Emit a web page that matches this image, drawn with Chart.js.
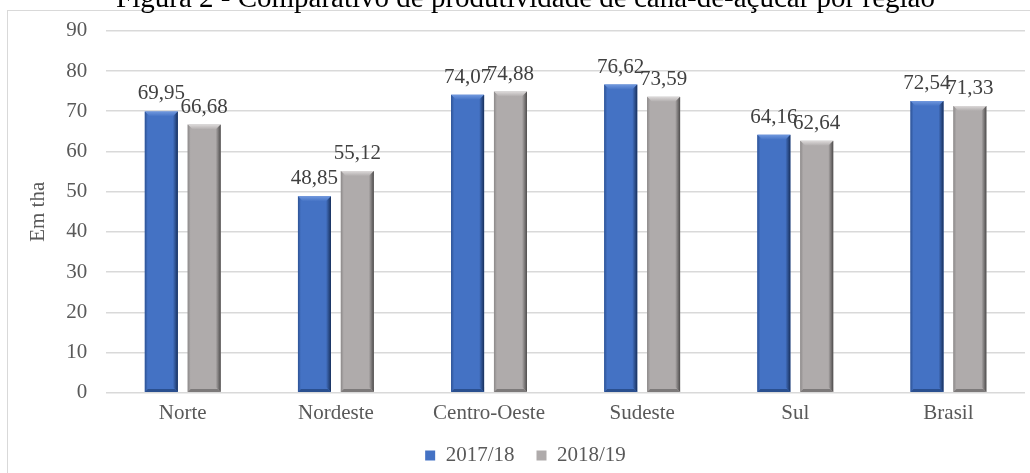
<!DOCTYPE html>
<html>
<head>
<meta charset="utf-8">
<script src="https://cdn.jsdelivr.net/npm/chart.js@4"></script>
<style>
  html, body { margin: 0; padding: 0; background: #fff; overflow: hidden; }
  body { width: 1030px; height: 473px; position: relative; }
  #frame { position: absolute; left: 7px; top: 10px; width: 1100px; height: 520px; border: 1px solid #d9d9d9; }
  #wrap { position: absolute; left: 0; top: -20px; width: 1030px; height: 496px; }
</style>
</head>
<body>
<div id="frame"></div>
<div id="wrap"><canvas id="bar-chart"></canvas></div>
<script>
const regioes = ["Norte", "Nordeste", "Centro-Oeste", "Sudeste", "Sul", "Brasil"];
const safra1718 = [69.95, 48.85, 74.07, 76.62, 64.16, 72.54];
const safra1819 = [66.68, 55.12, 74.88, 73.59, 62.64, 71.33];
const yTicks = [0, 10, 20, 30, 40, 50, 60, 70, 80, 90];

const FONT = "'Liberation Serif', 'Times New Roman', serif";

// face / bevel colours for each series
const bevels = [
  { face: "#4472c4", top: "#7098de", left: "#2d5294", right: "#18305c", bottom: "#2a4f8f" },
  { face: "#afabab", top: "#dcd9d9", left: "#8c8989", right: "#4d4b4b", bottom: "#7d7a7a" },
];

function fmt(v) {
  return v.toFixed(2).replace(".", ",");
}

// draws the bevelled edges over every bar
const bevelPlugin = {
  id: "bevel",
  afterDatasetsDraw(chart) {
    const ctx = chart.ctx;
    chart.data.datasets.forEach((ds, i) => {
      const c = bevels[i];
      chart.getDatasetMeta(i).data.forEach((bar) => {
        const l = bar.x - bar.width / 2, r = bar.x + bar.width / 2;
        const t = bar.y, b = bar.base;
        const s = 5;
        ctx.save();
        // top
        let g = ctx.createLinearGradient(0, t, 0, t + s);
        g.addColorStop(0, c.top);
        g.addColorStop(1, c.face);
        ctx.fillStyle = g;
        ctx.beginPath();
        ctx.moveTo(l, t); ctx.lineTo(r, t); ctx.lineTo(r - s, t + s); ctx.lineTo(l + s, t + s);
        ctx.closePath(); ctx.fill();
        // right side
        g = ctx.createLinearGradient(r - s, 0, r, 0);
        g.addColorStop(0, c.face);
        g.addColorStop(1, c.right);
        ctx.fillStyle = g;
        ctx.beginPath();
        ctx.moveTo(r, t); ctx.lineTo(r, b); ctx.lineTo(r - s, b - s); ctx.lineTo(r - s, t + s);
        ctx.closePath(); ctx.fill();
        // left side
        g = ctx.createLinearGradient(l, 0, l + 3, 0);
        g.addColorStop(0, c.left);
        g.addColorStop(1, c.face);
        ctx.fillStyle = g;
        ctx.beginPath();
        ctx.moveTo(l, t); ctx.lineTo(l + 3, t + 3); ctx.lineTo(l + 3, b - 3); ctx.lineTo(l, b);
        ctx.closePath(); ctx.fill();
        // bottom
        ctx.fillStyle = c.bottom;
        ctx.beginPath();
        ctx.moveTo(l, b); ctx.lineTo(l + 3, b - 3); ctx.lineTo(r - 3, b - 3); ctx.lineTo(r, b);
        ctx.closePath(); ctx.fill();
        ctx.restore();
      });
    });
  },
};

// value labels above the bars
const labelPlugin = {
  id: "valueLabels",
  afterDatasetsDraw(chart) {
    const ctx = chart.ctx;
    ctx.save();
    ctx.font = "21px " + FONT;
    ctx.fillStyle = "#404040";
    ctx.textAlign = "center";
    ctx.textBaseline = "alphabetic";
    chart.data.datasets.forEach((ds, i) => {
      chart.getDatasetMeta(i).data.forEach((bar, j) => {
        ctx.fillText(fmt(ds.data[j]), bar.x, bar.y - 12);
      });
    });
    ctx.restore();
  },
};

let barChart = document.getElementById("bar-chart");
barChart = new Chart(barChart, {
  type: "bar",
  data: {
    labels: regioes,
    datasets: [
      {
        label: "2017/18",
        data: safra1718,
        backgroundColor: bevels[0].face,
        categoryPercentage: 0.56,
        barPercentage: 0.77,
      },
      {
        label: "2018/19",
        data: safra1819,
        backgroundColor: bevels[1].face,
        categoryPercentage: 0.56,
        barPercentage: 0.77,
      },
    ],
  },
  options: {
    responsive: true,
    maintainAspectRatio: false,
    animation: false,
    layout: { padding: { left: 26, right: 5, top: 0, bottom: 0 } },
    plugins: {
      title: {
        display: true,
        text: "Figura 2 - Comparativo de produtividade de cana-de-açúcar por região",
        color: "#000",
        font: { family: FONT, size: 29, weight: "normal" },
        padding: { top: 2, bottom: 14 },
      },
      legend: {
        position: "bottom",
        labels: {
          color: "#595959",
          font: { family: FONT, size: 21 },
          boxWidth: 10,
          boxHeight: 10,
          padding: 22,
        },
      },
      tooltip: { enabled: false },
    },
    scales: {
      x: {
        grid: { display: false },
        border: { display: false },
        ticks: { color: "#595959", font: { family: FONT, size: 21 }, padding: 0 },
        afterFit: (scale) => { scale.height -= 3; },
      },
      y: {
        min: 0,
        max: 90,
        afterBuildTicks: (scale) => { scale.ticks = yTicks.map((v) => ({ value: v })); },
        grid: { color: "#d9d9d9", lineWidth: 1.5, drawTicks: false },
        border: { display: false },
        ticks: { color: "#595959", font: { family: FONT, size: 21 }, padding: 19 },
        title: {
          display: true,
          text: "Em tha",
          color: "#595959",
          font: { family: FONT, size: 21 },
          padding: { top: 0, bottom: -4 },
        },
      },
    },
  },
  plugins: [bevelPlugin, labelPlugin],
});
</script>
</body>
</html>
